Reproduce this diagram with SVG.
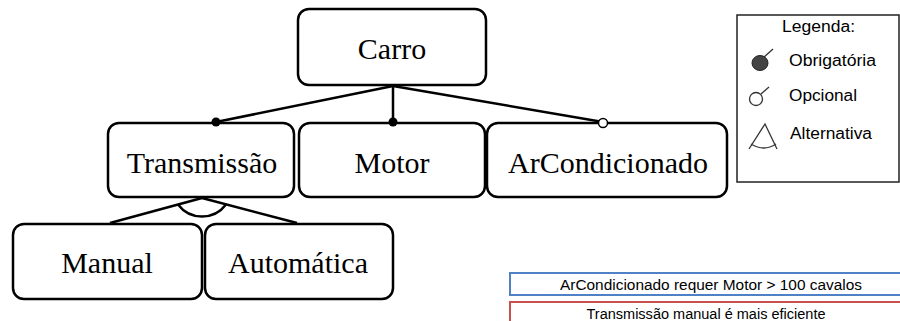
<svg xmlns="http://www.w3.org/2000/svg" width="900" height="321" viewBox="0 0 900 321">
<style>
.node rect{fill:#fff;stroke:#000;stroke-width:2.5}
.node text{font-family:"Liberation Serif","Times New Roman",serif;font-size:30px;fill:#000;text-anchor:middle}
.conn line,.conn path{stroke:#000;stroke-width:2.5;fill:none}
.leg{font-family:"Liberation Sans",Arial,sans-serif;font-size:16px;fill:#000}
.note{font-family:"Liberation Sans",Arial,sans-serif;font-size:14px;fill:#000;text-anchor:middle}
</style>
<rect width="900" height="321" fill="#fff"/>
<g class="conn" id="connectors">
<line x1="393" y1="86" x2="216" y2="122"/>
<line x1="393" y1="86" x2="393" y2="122"/>
<line x1="393" y1="86" x2="603" y2="122"/>
<line x1="202" y1="198" x2="110" y2="223"/>
<line x1="202" y1="198" x2="297" y2="223"/>
<path d="M178 204.5 A30 30 0 0 0 226 204.5"/>
</g>
<g class="node" id="carro"><rect x="298" y="9" width="188" height="76" rx="11"/><text x="392" y="59">Carro</text></g>
<g class="node" id="transmissao"><rect x="108" y="123" width="186" height="74" rx="11"/><text x="202" y="173">Transmissão</text></g>
<g class="node" id="motor"><rect x="299" y="123" width="186" height="74" rx="11"/><text x="392" y="173">Motor</text></g>
<g class="node" id="arcondicionado"><rect x="487" y="123" width="240" height="74" rx="11"/><text x="608" y="173">ArCondicionado</text></g>
<g class="node" id="manual"><rect x="13" y="224" width="189" height="75" rx="11"/><text x="107" y="273">Manual</text></g>
<g class="node" id="automatica"><rect x="205" y="224" width="188" height="75" rx="11"/><text x="298" y="273">Automática</text></g>
<g id="markers">
<circle cx="216" cy="122" r="4.5" fill="#000"/>
<circle cx="393" cy="122" r="4.5" fill="#000"/>
<circle cx="603" cy="123" r="4.5" fill="#fff" stroke="#000" stroke-width="1.5"/>
</g>
<g id="legenda">
<rect x="737" y="15" width="162" height="167" fill="#fff" stroke="#222" stroke-width="1.5"/>
<text class="leg" x="782" y="32" textLength="73" lengthAdjust="spacingAndGlyphs">Legenda:</text>
<line x1="763" y1="58" x2="773" y2="49" stroke="#333" stroke-width="1.3"/>
<ellipse cx="760" cy="63" rx="8" ry="7.5" fill="#444" stroke="#222" stroke-width="1"/>
<text class="leg" x="789" y="66" textLength="87" lengthAdjust="spacingAndGlyphs">Obrigatória</text>
<line x1="761" y1="94" x2="769" y2="87" stroke="#333" stroke-width="1.3"/>
<circle cx="756" cy="99" r="6.5" fill="#fff" stroke="#333" stroke-width="1.3"/>
<text class="leg" x="789" y="101" textLength="68" lengthAdjust="spacingAndGlyphs">Opcional</text>
<path d="M749 149 L765 124 L777 149 M751 144 Q764 152 776 144" fill="none" stroke="#333" stroke-width="1.3"/>
<text class="leg" x="790" y="139" textLength="82" lengthAdjust="spacingAndGlyphs">Alternativa</text>
</g>
<g id="restricoes">
<rect x="510" y="273" width="395" height="22" fill="#fff" stroke="#4f81c7" stroke-width="2"/>
<text class="note" x="711" y="290" textLength="302" lengthAdjust="spacingAndGlyphs">ArCondicionado requer Motor &gt; 100 cavalos</text>
<rect x="510" y="302" width="395" height="30" fill="#fff" stroke="#c9504f" stroke-width="2"/>
<text class="note" x="706" y="319" textLength="239" lengthAdjust="spacingAndGlyphs">Transmissão manual é mais eficiente</text>
</g>
</svg>
